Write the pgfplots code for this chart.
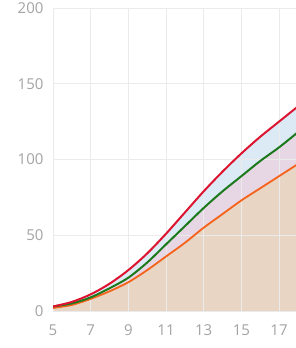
\documentclass[border=0pt]{standalone}
\usepackage{fontspec}
\setmainfont{Open Sans}
\usepackage{pgfplots}
\pgfplotsset{compat=1.18}
\definecolor{cred}{HTML}{DC1430}
\definecolor{cgreen}{HTML}{1C7A1C}
\definecolor{corange}{HTML}{F5621A}
\definecolor{fblue}{HTML}{DCEAF6}
\definecolor{fpink}{HTML}{E7D6E4}
\definecolor{ftan}{HTML}{E9D5C3}
\definecolor{gridc}{HTML}{EBEBEB}
\definecolor{tickc}{HTML}{A3A3A3}
\pgfplotstableread{
x red green orange
5 3 3 2
6 6 5 4
7 11 9 8
8 18 15 13
9 27 22 19
10 38 32 27
11 51 44 36
12 65 56 45
13 79 68 55
14 92 79 64
15 104 89 73
16 115 99 81
17 125 108 89
18 135 118 97
}\datatab
\begin{document}
\begin{tikzpicture}
\begin{axis}[
  set layers,
  at={(53pt,37pt)}, anchor=south west,
  scale only axis, width=243pt, height=303pt,
  xmin=5, xmax=17.9, ymin=0, ymax=200,
  xtick={5,7,...,17}, ytick={0,50,...,200},
  grid=major, major grid style={gridc, line width=0.8pt},
  axis line style={draw=none}, tick style={draw=none},
  ticklabel style={font=\fontsize{15}{15}\selectfont, text=tickc},
  /pgf/number format/assume math mode=true,
  yticklabel style={xshift=-6pt},
  xticklabel style={yshift=-10pt},
  clip=true,
]
\addplot[on layer=axis background, draw=none, fill=fblue, smooth] table[x=x,y=red] {\datatab} \closedcycle;
\addplot[on layer=axis background, draw=none, fill=fpink, smooth] table[x=x,y=green] {\datatab} \closedcycle;
\addplot[on layer=axis background, draw=none, fill=ftan, smooth] table[x=x,y=orange] {\datatab} \closedcycle;
\addplot[corange, line width=1.8pt, smooth] table[x=x,y=orange] {\datatab};
\addplot[cgreen, line width=2pt, smooth] table[x=x,y=green] {\datatab};
\addplot[cred, line width=2pt, smooth] table[x=x,y=red] {\datatab};
\end{axis}
\pgfresetboundingbox
\path (0,0) rectangle (296pt,348pt);
\end{tikzpicture}
\end{document}
